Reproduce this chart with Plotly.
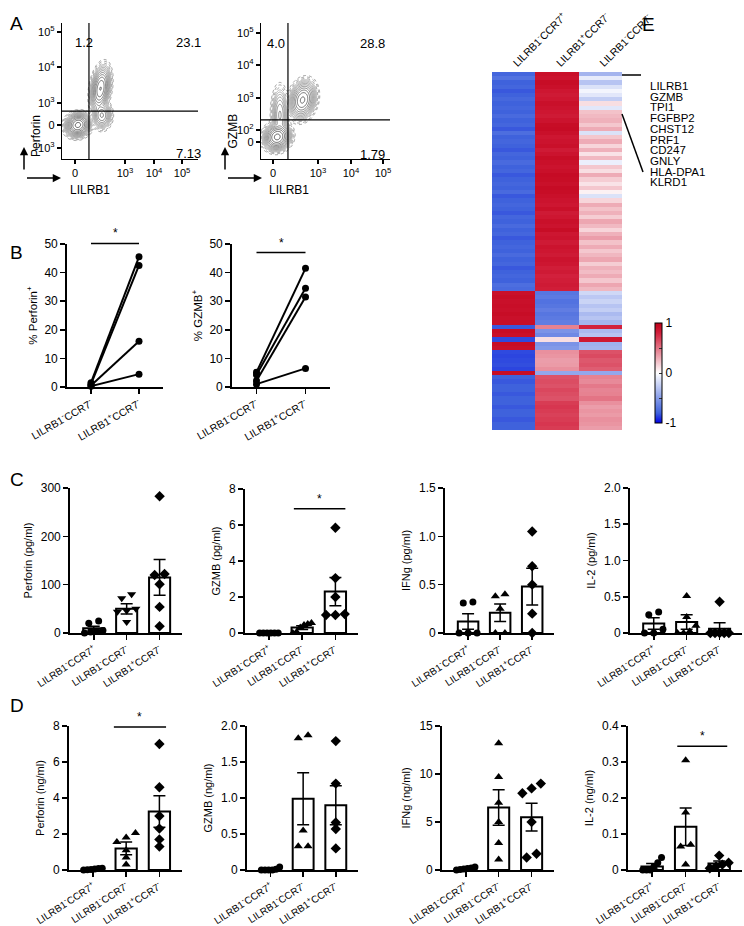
import numpy as np
import plotly.graph_objects as go

W, H = 744, 926
FONT = "Arial, Liberation Sans, Helvetica, sans-serif"

# ------------------------------------------------------------------ data
groups3 = ["LILRB1<sup>-</sup>CCR7<sup>+</sup>",
           "LILRB1<sup>-</sup>CCR7<sup>-</sup>",
           "LILRB1<sup>+</sup>CCR7<sup>-</sup>"]
groups2 = groups3[1:]

# Panel A: quadrant percentages (UL, UR, LR)
a_perf_quads = ["1.2", "23.1", "7.13"]
a_gzmb_quads = ["4.0", "28.8", "1.79"]
# biexponential channel positions (0-1024) of the tick labels
a_perf_xtick_pos = [98, 474, 693, 904]
a_perf_xtick_txt = ["0", "10<sup>3</sup>", "10<sup>4</sup>", "10<sup>5</sup>"]
a_perf_ytick_pos = [83, 256, 422, 693, 956]
a_perf_ytick_txt = ["-10<sup>3</sup>", "0", "10<sup>3</sup>", "10<sup>4</sup>", "10<sup>5</sup>"]
a_gzmb_xtick_pos = [95, 452, 714, 968]
a_gzmb_xtick_txt = ["0", "10<sup>3</sup>", "10<sup>4</sup>", "10<sup>5</sup>"]
a_gzmb_ytick_pos = [128, 218, 459, 708, 949]
a_gzmb_ytick_txt = ["0", "10<sup>2</sup>", "10<sup>3</sup>", "10<sup>4</sup>", "10<sup>5</sup>"]
# gates (channel units)
a_perf_gate = [203, 361]
a_gzmb_gate = [214, 294]
# cell populations: centre x, centre y, sd x, sd y, weight, correlation
a_perf_pops = [(120, 256, 30, 28, 1.0, 0.1),
               (290, 530, 24, 55, 0.45, 0.3),
               (300, 330, 24, 34, 0.15, 0.0)]
a_gzmb_pops = [(129, 166, 34, 32, 1.0, 0.1),
               (330, 444, 34, 46, 0.5, 0.2),
               (150, 330, 22, 70, 0.08, 0.0)]

# Panel B (% positive, paired donors)
b_perf_neg = [1.5, 1.0, 0.5, 0.3]
b_perf_pos = [45.5, 42.5, 16.0, 4.5]
b_gzmb_neg = [5.2, 4.3, 2.2, 1.0]
b_gzmb_pos = [41.5, 34.5, 31.5, 6.5]

# Panel C (pg/ml)
c_perf = [[25, 20, 5, 3, 0, 2], [80, 72, 50, 46, 44, 23], [283, 122, 120, 101, 54, 14]]
c_perf_mean = [10, 50, 115]
c_perf_sem = [4, 10.5, 37]
c_gzmb = [[0, 0, 0, 0, 0, 0], [0.55, 0.5, 0.45, 0.3, 0.05, 0], [5.85, 3.05, 2.0, 1.05, 1.0, 1.0]]
c_gzmb_mean = [0, 0.3, 2.3]
c_gzmb_sem = [0, 0.1, 0.78]
c_ifng = [[0.32, 0.31, 0, 0, 0], [0.38, 0.40, 0.25, 0, 0], [1.05, 0.69, 0.5, 0.2, 0.0]]
c_ifng_mean = [0.12, 0.21, 0.48]
c_ifng_sem = [0.08, 0.09, 0.19]
c_il2 = [[0.29, 0.25, 0.05, 0.0, 0.0], [0.51, 0.22, 0.1, 0.02, 0.0, 0.0], [0.43, 0.0, 0.0, 0.0, 0.0, 0.0]]
c_il2_mean = [0.13, 0.15, 0.06]
c_il2_sem = [0.08, 0.1, 0.08]

# Panel D (ng/ml)
d_perf = [[0.1, 0.05, 0.02, 0.0, 0.08, 0.03], [2.05, 1.8, 1.55, 1.1, 0.7, 0.3], [7.0, 4.6, 3.0, 2.3, 1.7, 1.3]]
d_perf_mean = [0.04, 1.2, 3.25]
d_perf_sem = [0.02, 0.35, 0.88]
d_gzmb = [[0.04, 0.01, 0.0, 0.0, 0.0, 0.0], [1.83, 1.87, 0.55, 0.33, 0.33], [1.79, 1.2, 0.66, 0.57, 0.3]]
d_gzmb_mean = [0.01, 0.99, 0.9]
d_gzmb_sem = [0.007, 0.36, 0.27]
d_ifng = [[0.3, 0.2, 0.1, 0.0, 0.05, 0.15], [13.2, 9.7, 7.0, 5.0, 2.8, 1.1], [9.0, 8.5, 8.0, 5.0, 1.7, 1.3]]
d_ifng_mean = [0.15, 6.5, 5.5]
d_ifng_sem = [0.07, 1.85, 1.45]
d_il2 = [[0.035, 0.02, 0.01, 0.0, 0.0, 0.0], [0.305, 0.16, 0.07, 0.065, 0.015], [0.04, 0.02, 0.015, 0.01, 0.005]]
d_il2_mean = [0.01, 0.12, 0.018]
d_il2_sem = [0.008, 0.052, 0.007]

# Panel E heatmap (row z-scores, one list per column)
e_cols = ["LILRB1<sup>-</sup>CCR7<sup>+</sup>",
          "LILRB1<sup>+</sup>CCR7<sup>-</sup>",
          "LILRB1<sup>-</sup>CCR7<sup>-</sup>"]
e_col1 = [-0.78, -0.72, -0.8, -0.78, -0.82, -0.8, -0.77, -0.8, -0.78, -0.8,
          -0.76, -0.8, -0.78, -0.82, -0.74, -0.8, -0.78, -0.8, -0.82, -0.78,
          -0.8, -0.76, -0.8, -0.78, -0.82, -0.8, -0.78, -0.8, -0.76, -0.82,
          -0.8, -0.78, -0.8, -0.82, -0.78, -0.8, -0.76, -0.8, -0.78, -0.82,
          -0.8, -0.78, -0.8, -0.76, -0.8, -0.78, -0.82, -0.8, -0.78, -0.8,
          -0.74, -0.76,
          0.9, 0.92, 0.9, 0.91, 0.9, 0.92, 0.9, 0.91,
          -0.82, 0.92, 0.9, -0.85, 0.92, 0.9,
          -0.85, -0.86, -0.85, -0.84, -0.86, 0.92,
          -0.8, -0.82, -0.8, -0.8, -0.82, -0.8, -0.8, -0.82, -0.8, -0.8, -0.82, -0.8, -0.8]
e_col2 = [0.9, 0.88, 0.92, 0.9, 0.86, 0.84, 0.86, 0.9, 0.88, 0.86,
          0.84, 0.88, 0.92, 0.93, 0.9, 0.86, 0.88, 0.9, 0.84, 0.88,
          0.92, 0.9, 0.88, 0.9, 0.93, 0.92, 0.9, 0.93, 0.92, 0.9,
          0.88, 0.86, 0.9, 0.84, 0.86, 0.9, 0.88, 0.92, 0.86, 0.88,
          0.84, 0.88, 0.86, 0.84, 0.88, 0.86, 0.82, 0.84, 0.8, 0.82,
          0.84, 0.82,
          -0.7, -0.68, -0.72, -0.7, -0.66, -0.7, -0.68, -0.66,
          0.45, -0.55, -0.6, 0.12, -0.55, -0.52,
          0.4, 0.38, 0.35, 0.36, 0.4, -0.45,
          0.62, 0.64, 0.62, 0.66, 0.64, 0.62, 0.7, 0.72, 0.7, 0.68, 0.7, 0.72, 0.7]
e_col3 = [-0.38, -0.1, -0.3, -0.15, -0.05, -0.12, -0.25, 0.12, -0.12, 0.22,
          0.25, 0.28, 0.2, 0.3, -0.15, 0.2, 0.3, 0.15, 0.28, 0.1,
          0.25, -0.08, 0.2, 0.12, 0.3, 0.18, 0.1, 0.2, 0.05, -0.15,
          0.15, 0.3, 0.22, 0.28, 0.18, 0.32, 0.25, 0.15, 0.28, 0.35,
          0.22, 0.3, 0.2, 0.26, 0.32, 0.18, 0.28, 0.24, 0.3, 0.2,
          0.32, 0.26,
          -0.2, -0.28, -0.22, -0.3, -0.25, -0.35, -0.3, -0.38,
          0.8, -0.35, -0.3, 0.85, -0.4, -0.38,
          0.62, 0.65, 0.6, 0.62, 0.58, -0.45,
          0.45, 0.42, 0.48, 0.44, 0.45, 0.5, 0.4, 0.35, 0.38, 0.36, 0.4, 0.38, 0.35]
e_genes = ["LILRB1", "GZMB", "TPI1", "FGFBP2", "CHST12", "PRF1", "CD247", "GNLY", "HLA-DPA1", "KLRD1"]

# ------------------------------------------------------------------ helpers
fig = go.Figure()
layout_axes = {}
shapes = []
annotations = []
_n = [0]


def px(x):
    return x / W


def py(y):
    return 1 - y / H


def new_axes(x0, x1, ytop, ybot, xa, ya):
    _n[0] += 1
    s = "" if _n[0] == 1 else str(_n[0])
    layout_axes["xaxis" + s] = dict(domain=[px(x0), px(x1)], anchor="y" + s, automargin=False, **xa)
    layout_axes["yaxis" + s] = dict(domain=[py(ybot), py(ytop)], anchor="x" + s, automargin=False, **ya)
    return "x" + s, "y" + s


def AX(**kw):
    d = dict(showline=True, linecolor="black", linewidth=1.8, ticks="outside", ticklen=5,
             tickwidth=1.6, tickcolor="black", showgrid=False, zeroline=False,
             tickfont=dict(size=12, color="black", family=FONT))
    d.update(kw)
    return d


def text(x, y, s, size=12, **kw):
    d = dict(x=px(x), y=py(y), xref="paper", yref="paper", text=s, showarrow=False,
             font=dict(size=size, color="black", family=FONT))
    d.update(kw)
    annotations.append(d)


def spread(vals, ymax):
    order = sorted(range(len(vals)), key=lambda i: vals[i])
    tol = 0.045 * ymax
    clusters = []
    for i in order:
        if clusters and vals[i] - vals[clusters[-1][-1]] < tol:
            clusters[-1].append(i)
        else:
            clusters.append([i])
    offs = [0.0] * len(vals)
    for c in clusters:
        k = len(c)
        if k == 1:
            continue
        step = min(0.3, 0.56 / (k - 1))
        for j, i in enumerate(c):
            offs[i] = (j - (k - 1) / 2) * step
    return offs


def sig_bar(xr, yr, xrange, ymax, xa, xb, yv):
    r0, r1 = xrange
    fa = (xa - r0) / (r1 - r0)
    fb = (xb - r0) / (r1 - r0)
    fy = yv / ymax
    shapes.append(dict(type="line", xref=xr + " domain", yref=yr + " domain",
                       x0=fa, x1=fb, y0=fy, y1=fy, line=dict(color="black", width=1.5)))
    annotations.append(dict(xref=xr + " domain", yref=yr + " domain", x=(fa + fb) / 2, y=fy,
                            text="*", showarrow=False, yanchor="bottom", yshift=1,
                            font=dict(size=12, color="black", family=FONT)))


# ------------------------------------------------------------------ Panel A (flow)
def flow_panel(x0, x1, ytop, ybot, xpos, xtxt, ypos, ytxt, pops, gate, quads, qpos, ylabel, ylab_xy):
    xa = AX(range=[0, 1024], tickvals=xpos, ticktext=xtxt, linewidth=1.2, tickwidth=1.2, ticklen=4,
            tickfont=dict(size=11, color="black", family=FONT))
    ya = AX(range=[0, 1024], tickvals=ypos, ticktext=ytxt, linewidth=1.2, tickwidth=1.2, ticklen=4,
            tickfont=dict(size=11, color="black", family=FONT))
    xr, yr = new_axes(x0, x1, ytop, ybot, xa, ya)
    g = np.linspace(0, 1024, 181)
    X, Y = np.meshgrid(g, g)
    D = np.zeros_like(X)
    for cx, cy, sx, sy, w, rho in pops:
        u = (X - cx) / sx
        v = (Y - cy) / sy
        D += w * np.exp(-(u * u - 2 * rho * u * v + v * v) / (2 * (1 - rho * rho)))
    Z = np.log10(D / D.max() + 1e-9)
    # sparse outer events (dotted outline)
    fig.add_trace(go.Contour(x=g, y=g, z=Z, xaxis=xr, yaxis=yr, showscale=False, hoverinfo="skip",
                             contours=dict(coloring="lines", start=-3.8, end=-3.0, size=0.4),
                             line=dict(width=1.0, dash="dot"),
                             colorscale=[[0, "#9a9a9a"], [1, "#9a9a9a"]]))
    fig.add_trace(go.Contour(x=g, y=g, z=Z, xaxis=xr, yaxis=yr, showscale=False, hoverinfo="skip",
                             contours=dict(coloring="lines", start=-2.7, end=-0.1, size=0.26),
                             line=dict(width=0.8),
                             colorscale=[[0, "#a8a8a8"], [1, "#3a3a3a"]]))
    shapes.append(dict(type="line", xref=xr, yref=yr, x0=gate[0], x1=gate[0], y0=0, y1=1024,
                       line=dict(color="black", width=1.2)))
    shapes.append(dict(type="line", xref=xr, yref=yr, x0=0, x1=1024, y0=gate[1], y1=gate[1],
                       line=dict(color="black", width=1.2)))
    for q, (qx, qy) in zip(quads, qpos):
        text(qx, qy, q, size=13)
    text(ylab_xy[0], ylab_xy[1], ylabel, size=12, textangle=-90)


flow_panel(62, 198, 23, 159, a_perf_xtick_pos, a_perf_xtick_txt, a_perf_ytick_pos, a_perf_ytick_txt,
           a_perf_pops, a_perf_gate, a_perf_quads, [(73, 33), (174, 33), (174, 144)], "Perforin", (27, 113))
flow_panel(261, 390, 23, 159, a_gzmb_xtick_pos, a_gzmb_xtick_txt, a_gzmb_ytick_pos, a_gzmb_ytick_txt,
           a_gzmb_pops, a_gzmb_gate, a_gzmb_quads, [(276, 34), (372, 34), (372, 145)], "GZMB", (223, 112))

for ax0 in (24, 225):
    annotations.append(dict(x=px(ax0), y=py(147), xref="paper", yref="paper", ax=0, ay=31,
                            axref="pixel", ayref="pixel", showarrow=True, arrowhead=2, arrowsize=1.1,
                            arrowwidth=1.5, arrowcolor="black", text=" "))
    annotations.append(dict(x=px(ax0 + 37), y=py(178), xref="paper", yref="paper", ax=-37, ay=0,
                            axref="pixel", ayref="pixel", showarrow=True, arrowhead=2, arrowsize=1.1,
                            arrowwidth=1.5, arrowcolor="black", text=" "))
text(68, 181, "LILRB1", size=12, xanchor="left")
text(267, 181, "LILRB1", size=12, xanchor="left")


# ------------------------------------------------------------------ Panel B (paired)
def pair_panel(x0, x1, ytop, ybot, neg, pos, ytitle, sig_y):
    xa = AX(range=[-0.5, 1.5], tickvals=[0, 1], ticktext=groups2, tickangle=-30,
            tickfont=dict(size=10.5, color="black", family=FONT))
    ya = AX(range=[0, 50], tickvals=[0, 10, 20, 30, 40, 50],
            title=dict(text=ytitle, font=dict(size=11.5, color="black", family=FONT), standoff=4))
    xr, yr = new_axes(x0, x1, ytop, ybot, xa, ya)
    for a, b in zip(neg, pos):
        fig.add_trace(go.Scatter(x=[0, 1], y=[a, b], mode="lines+markers", xaxis=xr, yaxis=yr,
                                 line=dict(color="black", width=2),
                                 marker=dict(symbol="circle", size=7, color="black"),
                                 cliponaxis=False, hoverinfo="skip"))
    sig_bar(xr, yr, [-0.5, 1.5], 50, 0, 1, sig_y)


pair_panel(67, 163, 244, 387, b_perf_neg, b_perf_pos, "% Perforin<sup>+</sup>", 50.2)
pair_panel(232, 330, 244, 387, b_gzmb_neg, b_gzmb_pos, "% GZMB<sup>+</sup>", 47)


# ------------------------------------------------------------------ Panels C & D (bars)
XR = [-0.72, 2.68]


def bar_panel(x0, x1, ytop, ybot, pts, means, sems, ymax, yticks, ylabels, ytitle, markers, sig=None):
    xa = AX(range=XR, tickvals=[0, 1, 2], ticktext=groups3, tickangle=-33,
            tickfont=dict(size=10, color="black", family=FONT))
    ya = AX(range=[0, ymax], tickvals=yticks, ticktext=ylabels,
            title=dict(text=ytitle, font=dict(size=11, color="black", family=FONT), standoff=6))
    xr, yr = new_axes(x0, x1, ytop, ybot, xa, ya)
    fig.add_trace(go.Bar(x=[0, 1, 2], y=means, width=0.64, xaxis=xr, yaxis=yr, hoverinfo="skip",
                         marker=dict(color="white", line=dict(color="black", width=2)),
                         error_y=dict(type="data", array=sems, color="black", thickness=1.5, width=6)))
    for i, vals in enumerate(pts):
        offs = spread(vals, ymax)
        sym = markers[i]
        size = 7 if sym == "circle" else 8
        fig.add_trace(go.Scatter(x=[i + o for o in offs], y=vals, mode="markers", xaxis=xr, yaxis=yr,
                                 marker=dict(symbol=sym, size=size, color="black"),
                                 cliponaxis=False, hoverinfo="skip"))
    if sig:
        sig_bar(xr, yr, XR, ymax, sig[0], sig[1], sig[2])


M_UP = ["circle", "triangle-up", "diamond"]
M_DN = ["circle", "triangle-down", "diamond"]

bar_panel(70, 182, 488, 633, c_perf, c_perf_mean, c_perf_sem, 300, [0, 100, 200, 300],
          ["0", "100", "200", "300"], "Perforin (pg/ml)", M_DN)
bar_panel(245, 358, 489, 633, c_gzmb, c_gzmb_mean, c_gzmb_sem, 8, [0, 2, 4, 6, 8],
          ["0", "2", "4", "6", "8"], "GZMB (pg/ml)", M_UP, sig=(0.75, 2.3, 6.9))
bar_panel(445, 554, 488, 633, c_ifng, c_ifng_mean, c_ifng_sem, 1.5, [0, 0.5, 1.0, 1.5],
          ["0", "0.5", "1.0", "1.5"], "IFNg (pg/ml)", M_UP)
bar_panel(630, 742, 488, 633, c_il2, c_il2_mean, c_il2_sem, 2.0, [0, 0.5, 1.0, 1.5, 2.0],
          ["0", "0.5", "1.0", "1.5", "2.0"], "IL-2 (pg/ml)", M_UP)

bar_panel(69, 182, 726, 870, d_perf, d_perf_mean, d_perf_sem, 8, [0, 2, 4, 6, 8],
          ["0", "2", "4", "6", "8"], "Perforin (ng/ml)", M_UP, sig=(0.63, 2.2, 7.94))
bar_panel(247, 358, 726, 870, d_gzmb, d_gzmb_mean, d_gzmb_sem, 2.0, [0, 0.5, 1.0, 1.5, 2.0],
          ["0", "0.5", "1.0", "1.5", "2.0"], "GZMB (ng/ml)", M_UP)
bar_panel(442, 554, 726, 870, d_ifng, d_ifng_mean, d_ifng_sem, 15, [0, 5, 10, 15],
          ["0", "5", "10", "15"], "IFNg (ng/ml)", M_UP)
bar_panel(628, 742, 726, 870, d_il2, d_il2_mean, d_il2_sem, 0.4, [0, 0.1, 0.2, 0.3, 0.4],
          ["0", "0.1", "0.2", "0.3", "0.4"], "IL-2 (ng/ml)", M_UP, sig=(0.75, 2.24, 0.344))

# ------------------------------------------------------------------ Panel E (heatmap)
n_rows = len(e_col1)
zmat = [list(r) for r in zip(e_col1, e_col2, e_col3)]
xa = dict(range=[-0.5, 2.5], tickvals=[0, 1, 2], ticktext=e_cols, side="top", tickangle=-45,
          showline=False, ticks="", showgrid=False, zeroline=False,
          tickfont=dict(size=10.5, color="black", family=FONT))
ya = dict(range=[n_rows - 0.5, -0.5], visible=False, showgrid=False, zeroline=False)
xr, yr = new_axes(492, 622, 72, 430, xa, ya)
fig.add_trace(go.Heatmap(z=zmat, x=[0, 1, 2], y=list(range(n_rows)), xaxis=xr, yaxis=yr,
                         zmin=-1, zmax=1, hoverinfo="skip",
                         colorscale=[[0.0, "#0000e6"], [0.1, "#3f62dc"], [0.5, "#ffffff"],
                                     [0.9, "#d2203c"], [1.0, "#c00018"]],
                         colorbar=dict(x=px(655), xanchor="left", y=py(373), yanchor="middle",
                                       len=100 / H, lenmode="fraction", thickness=7,
                                       xpad=0, ypad=0, outlinecolor="black", outlinewidth=1,
                                       tickvals=[-1, -0.5, 0, 0.5, 1], ticktext=["-1", " ", "0", " ", "1"],
                                       ticks="inside", ticklen=3, tickcolor="#333",
                                       tickfont=dict(size=12, color="black", family=FONT))))
for i, gname in enumerate(e_genes):
    text(648, 78 + i * 10.7, gname, size=11.5, xanchor="left")
shapes.append(dict(type="line", xref="paper", yref="paper", x0=px(622), x1=px(641), y0=py(75), y1=py(75),
                   line=dict(color="black", width=1.5)))
shapes.append(dict(type="line", xref="paper", yref="paper", x0=px(622), x1=px(643), y0=py(114), y1=py(172),
                   line=dict(color="black", width=1.5)))

# ------------------------------------------------------------------ panel letters
for letter, (lx, ly) in {"A": (8, 11), "B": (8, 240), "C": (8, 479), "D": (8, 718), "E": (657, 12)}.items():
    text(lx, ly, letter, size=19)

fig.update_layout(width=W, height=H, margin=dict(l=0, r=0, t=0, b=0, autoexpand=False),
                  paper_bgcolor="white", plot_bgcolor="white", showlegend=False,
                  font=dict(family=FONT, color="black"),
                  shapes=shapes, annotations=annotations, **layout_axes)
fig.write_html("out.html", config={"displayModeBar": False, "staticPlot": True},
               post_script="document.body.style.margin='0';document.body.style.overflow='hidden';")
